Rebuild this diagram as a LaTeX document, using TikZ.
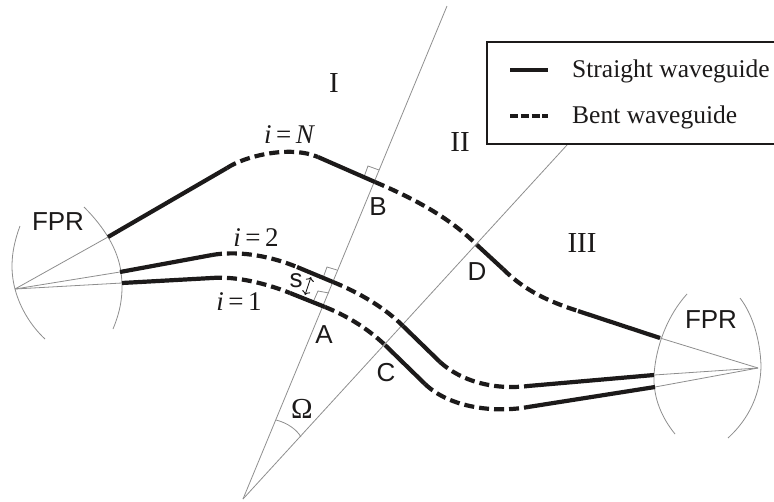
\documentclass[tikz,border=0pt]{standalone}
\usepackage{fontspec}
\usetikzlibrary{arrows.meta}
\setmainfont{Liberation Serif}
\newfontfamily\arialf{Liberation Sans}
\definecolor{ink}{HTML}{1C1A1A}
\definecolor{thin}{HTML}{8E8E8E}
\newcommand{\ieq}[1]{{\itshape i}\hspace{4.5pt}=\hspace{4.5pt}#1}
\tikzset{
  straightwg/.style={draw=ink,line width=4.2pt},
  bentwg/.style={draw=ink,line width=4.2pt,dash pattern=on 10pt off 5pt},
  thinline/.style={draw=thin,line width=0.8pt},
  sanslabel/.style={inner sep=0pt,text=ink,font=\arialf\fontsize{26}{26}\selectfont},
  seriflabel/.style={inner sep=0pt,text=ink,font=\fontsize{29}{29}\selectfont},
  ilabel/.style={inner sep=0pt,text=ink,font=\fontsize{27}{27}\selectfont},
  legendtext/.style={inner sep=0pt,anchor=base west,text=ink,font=\fontsize{25.5}{25.5}\selectfont}
}
\begin{document}
\begin{tikzpicture}[x=1pt,y=-1pt]
\useasboundingbox (0,0) rectangle (774,501);
% angle lines
\coordinate (O) at (243,499);
\coordinate (T1) at (447,6);
\coordinate (T2) at (567,145);
\draw[thinline] (O) -- (T1);
\draw[thinline] (O) -- (T2);
\draw[thinline] (276,420) .. controls (288,423) and (297,430) .. (301,437);
% FPR focal points
\coordinate (FL) at (15,289);
\coordinate (FR) at (758,368);
% left FPR
\draw[thinline] (20,226) .. controls (11,250) and (10,270) .. (15,289) .. controls (20,308) and (31,326) .. (45,339);
\draw[thinline] (84,207) .. controls (105,228) and (118,250) .. (121,272) .. controls (124,295) and (120,312) .. (113,329);
% right FPR
\draw[thinline] (687,294) .. controls (668,315) and (656,345) .. (654,375) .. controls (653,398) and (662,418) .. (675,434);
\draw[thinline] (740,298) .. controls (753,315) and (760,340) .. (761,365) .. controls (761,392) and (750,418) .. (728,438);
% waveguide ports
\coordinate (LN) at (108,237);
\coordinate (L2) at (120,272);
\coordinate (L1) at (122,283);
\coordinate (RN) at (660,338);
\coordinate (R2) at (654,375);
\coordinate (R1) at (655,387);
\draw[thinline] (FL) -- (LN);
\draw[thinline] (FL) -- (L2);
\draw[thinline] (FL) -- (L1);
\draw[thinline] (FR) -- (RN);
\draw[thinline] (FR) -- (R2);
\draw[thinline] (FR) -- (R1);
% right-angle marks
\draw[thinline] (379,170) -- (368,166) -- (364,177);
\draw[thinline] (337,270) -- (327,267) -- (323,278);
\draw[thinline] (329,293) -- (318,291) -- (314,300);
% waveguide i=N
\coordinate (N1) at (227,168);
\coordinate (N2) at (318,157);
\coordinate (B) at (375,182);
\coordinate (D) at (477,245);
\coordinate (N3) at (503,269);
\coordinate (N4) at (578,311);
\draw[straightwg] (LN) -- (N1);
\draw[bentwg] (N1) .. controls (245,156) and (290,145) .. (N2);
\draw[straightwg] (N2) -- (B);
\draw[bentwg] (B) .. controls (415,199) and (450,218) .. (D);
\draw[straightwg] (D) -- (N3);
\draw[bentwg] (N3) .. controls (525,291) and (550,302) .. (N4);
\draw[straightwg] (N4) -- (RN);
% waveguide i=2
\coordinate (S1) at (212,255);
\coordinate (S2) at (297,267);
\coordinate (S3) at (333,282);
\coordinate (S4) at (403,326);
\coordinate (S5) at (440,362);
\coordinate (S6) at (528,386);
\draw[straightwg] (L2) -- (S1);
\draw[bentwg] (S1) .. controls (235,251) and (265,254) .. (S2);
\draw[straightwg] (S2) -- (S3);
\draw[bentwg] (S3) .. controls (360,293) and (385,308) .. (S4);
\draw[straightwg] (S4) -- (S5);
\draw[bentwg] (S5) .. controls (462,382) and (495,390) .. (S6);
\draw[straightwg] (S6) -- (R2);
% waveguide i=1
\coordinate (A1) at (212,278);
\coordinate (A2) at (290,293);
\coordinate (A3) at (325,307);
\coordinate (C) at (385,345);
\coordinate (A4) at (425,384);
\coordinate (A5) at (528,407);
\draw[straightwg] (L1) -- (A1);
\draw[bentwg] (A1) .. controls (235,276) and (265,283) .. (A2);
\draw[straightwg] (A2) -- (A3);
\draw[bentwg] (A3) .. controls (345,315) and (366,327) .. (C);
\draw[straightwg] (C) -- (A4);
\draw[bentwg] (A4) .. controls (450,408) and (495,413) .. (A5);
\draw[straightwg] (A5) -- (R1);
% spacing arrow
\coordinate (sa) at (311,277);
\coordinate (sb) at (305,295);
\draw[draw=ink,line width=0.9pt,{To[length=4pt]}-{To[length=4pt]}] (sa) -- (sb);
% labels
\node[sanslabel] (fprl) at (58,222) {FPR};
\node[sanslabel] (fprr) at (711,320) {FPR};
\node[sanslabel] (lA) at (324,335) {A};
\node[sanslabel] (lB) at (378,207) {B};
\node[sanslabel] (lC) at (386,373) {C};
\node[sanslabel] (lD) at (477,272) {D};
\node[sanslabel] (ls) at (296,281) {s};
\node[seriflabel] (rI) at (334,83) {I};
\node[seriflabel] (rII) at (460,142) {II};
\node[seriflabel] (rIII) at (582,243) {III};
\node[seriflabel] (om) at (302,409) {Ω};
\node[ilabel] (iN) at (289,135) {\ieq{\itshape N}};
\node[ilabel] (i2) at (256,238) {\ieq{2}};
\node[ilabel] (i1) at (239,302) {\ieq{1}};
% legend
\draw[draw=ink,line width=1.5pt] (774,42) -- (487,42) -- (487,144) -- (774,144);
\coordinate (k1a) at (510,70);
\coordinate (k1b) at (548,70);
\coordinate (k2a) at (510,116);
\coordinate (k2b) at (548,116);
\draw[straightwg] (k1a) -- (k1b);
\draw[draw=ink,line width=4.2pt,dash pattern=on 8pt off 2.8pt] (k2a) -- (k2b);
\node[legendtext] (t1) at (572,77) {Straight waveguide};
\node[legendtext] (t2) at (572,123) {Bent waveguide};
\end{tikzpicture}
\end{document}
